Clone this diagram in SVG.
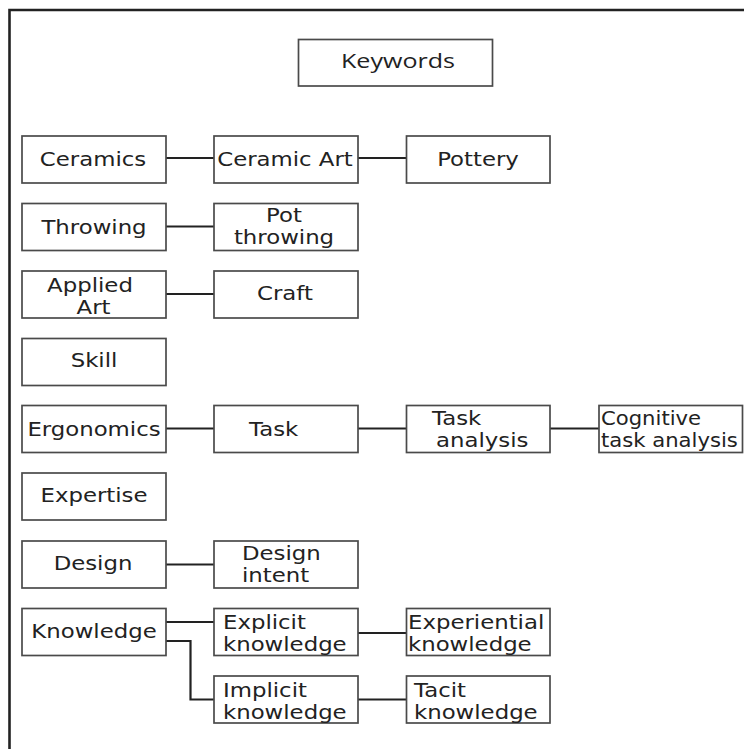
<svg xmlns="http://www.w3.org/2000/svg" width="744" height="749" viewBox="0 0 744 749">
  <style>
    .bg { fill: #ffffff; }
    .frame { fill: none; stroke: #222; stroke-width: 2.6; }
    .box { fill: #ffffff; stroke: #4a4a4a; stroke-width: 1.7; }
    .link { fill: none; stroke: #222; stroke-width: 2.2; }
    text { font-family: "DejaVu Sans", Verdana, sans-serif; font-size: 19.5px; fill: #222; }
    .mid { text-anchor: middle; }
    .title { font-family: "Open Sans", "DejaVu Sans", sans-serif; font-size: 20px; fill: #222; }
  </style>

  <rect class="bg" x="0" y="0" width="744" height="749"/>
  <!-- open page frame: top and left edges only -->
  <path class="frame" d="M9.5,749 V10 H744"/>

  <!-- connectors -->
  <g id="connectors">
    <path class="link" d="M166,158 H214"/>
    <path class="link" d="M358,158 H406.5"/>
    <path class="link" d="M166,226.5 H214"/>
    <path class="link" d="M166,294 H214"/>
    <path class="link" d="M166,428.5 H214"/>
    <path class="link" d="M358,428.5 H406.5"/>
    <path class="link" d="M550,428.5 H599"/>
    <path class="link" d="M166,564.5 H214"/>
    <path class="link" d="M166,622 H214"/>
    <path class="link" d="M166,641 H190.5 V699.5 H214"/>
    <path class="link" d="M358,633 H406.5"/>
    <path class="link" d="M358,699.5 H406.5"/>
  </g>

  <!-- heading -->
  <g id="keywords">
    <rect class="box" x="298.5" y="39.5" width="194" height="46.5"/>
    <text class="title" x="341" y="68" textLength="114" lengthAdjust="spacingAndGlyphs">Keywords</text>
  </g>

  <!-- row: ceramics -->
  <g id="ceramics">
    <rect class="box" x="22" y="136" width="144" height="47"/>
    <text class="mid" transform="translate(93,165.5) scale(1.17 1)">Ceramics</text>
  </g>
  <g id="ceramic-art">
    <rect class="box" x="214" y="136" width="144" height="47"/>
    <text class="mid" transform="translate(285,165.5) scale(1.17 1)">Ceramic Art</text>
  </g>
  <g id="pottery">
    <rect class="box" x="406.5" y="136" width="143.5" height="47"/>
    <text class="mid" transform="translate(478,165.5) scale(1.17 1)">Pottery</text>
  </g>

  <!-- row: throwing -->
  <g id="throwing">
    <rect class="box" x="22" y="203.5" width="144" height="47"/>
    <text class="mid" transform="translate(94,233.5) scale(1.17 1)">Throwing</text>
  </g>
  <g id="pot-throwing">
    <rect class="box" x="214" y="203.5" width="144" height="47"/>
    <text class="mid" transform="translate(284,222) scale(1.17 1)"><tspan x="0">Pot</tspan><tspan x="0" dy="22.5">throwing</tspan></text>
  </g>

  <!-- row: applied art -->
  <g id="applied-art">
    <rect class="box" x="22" y="271" width="144" height="47"/>
    <text class="mid" transform="translate(90,291.5) scale(1.17 1)"><tspan x="0">Applied</tspan><tspan x="3" dy="22.5">Art</tspan></text>
  </g>
  <g id="craft">
    <rect class="box" x="214" y="271" width="144" height="47"/>
    <text class="mid" transform="translate(285,300) scale(1.17 1)">Craft</text>
  </g>

  <!-- row: skill -->
  <g id="skill">
    <rect class="box" x="22" y="338.5" width="144" height="47"/>
    <text class="mid" transform="translate(94,367) scale(1.17 1)">Skill</text>
  </g>

  <!-- row: ergonomics -->
  <g id="ergonomics">
    <rect class="box" x="22" y="405.5" width="144" height="47"/>
    <text class="mid" transform="translate(94,435.5) scale(1.17 1)">Ergonomics</text>
  </g>
  <g id="task">
    <rect class="box" x="214" y="405.5" width="144" height="47"/>
    <text transform="translate(249,435.5) scale(1.17 1)">Task</text>
  </g>
  <g id="task-analysis">
    <rect class="box" x="406.5" y="405.5" width="143.5" height="47"/>
    <text transform="translate(432,425) scale(1.17 1)"><tspan x="0">Task</tspan><tspan x="3.5" dy="22.5">analysis</tspan></text>
  </g>
  <g id="cognitive-task-analysis">
    <rect class="box" x="599" y="405.5" width="143.5" height="47"/>
    <text transform="translate(601,424.5) scale(1.085 1)"><tspan x="0">Cognitive</tspan><tspan x="0" dy="23">task analysis</tspan></text>
  </g>

  <!-- row: expertise -->
  <g id="expertise">
    <rect class="box" x="22" y="473" width="144" height="47"/>
    <text class="mid" transform="translate(94,502) scale(1.17 1)">Expertise</text>
  </g>

  <!-- row: design -->
  <g id="design">
    <rect class="box" x="22" y="541" width="144" height="47"/>
    <text class="mid" transform="translate(93,570) scale(1.17 1)">Design</text>
  </g>
  <g id="design-intent">
    <rect class="box" x="214" y="541" width="144" height="47"/>
    <text transform="translate(242,560) scale(1.17 1)"><tspan x="0">Design</tspan><tspan x="0" dy="22.5">intent</tspan></text>
  </g>

  <!-- row: knowledge -->
  <g id="knowledge">
    <rect class="box" x="22" y="608.5" width="144" height="47"/>
    <text class="mid" transform="translate(94,638) scale(1.17 1)">Knowledge</text>
  </g>
  <g id="explicit-knowledge">
    <rect class="box" x="214" y="608.5" width="144" height="47"/>
    <text transform="translate(223,629) scale(1.17 1)"><tspan x="0">Explicit</tspan><tspan x="0" dy="22.5">knowledge</tspan></text>
  </g>
  <g id="experiential-knowledge">
    <rect class="box" x="406.5" y="608.5" width="143.5" height="47"/>
    <text transform="translate(408,629) scale(1.17 1)"><tspan x="0">Experiential</tspan><tspan x="0" dy="22.5">knowledge</tspan></text>
  </g>
  <g id="implicit-knowledge">
    <rect class="box" x="214" y="676" width="144" height="47"/>
    <text transform="translate(223,696.5) scale(1.17 1)"><tspan x="0">Implicit</tspan><tspan x="0" dy="22.5">knowledge</tspan></text>
  </g>
  <g id="tacit-knowledge">
    <rect class="box" x="406.5" y="676" width="143.5" height="47"/>
    <text transform="translate(414,696.5) scale(1.17 1)"><tspan x="0">Tacit</tspan><tspan x="0" dy="22.5">knowledge</tspan></text>
  </g>
</svg>
